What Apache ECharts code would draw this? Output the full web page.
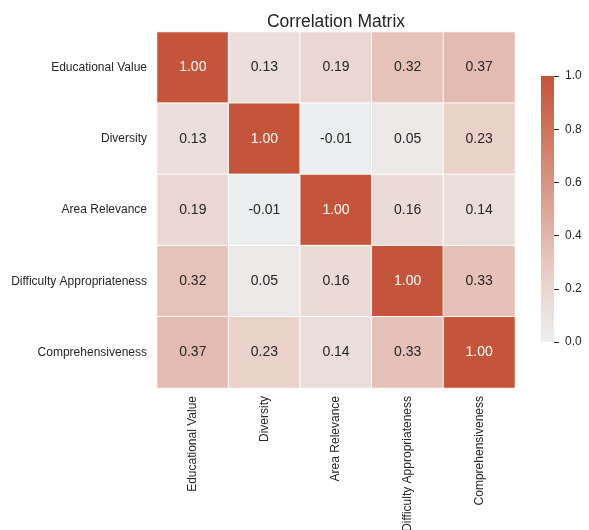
<!DOCTYPE html>
<html>
<head>
<meta charset="utf-8">
<script src="https://cdn.jsdelivr.net/npm/echarts@6/dist/echarts.min.js"></script>
<style>
  html, body { margin: 0; padding: 0; background: #fff; }
  #main { width: 589px; height: 530px; }
</style>
</head>
<body>
<div id="main"></div>
<script>
// 变量名
const features = ['Educational Value', 'Diversity', 'Area Relevance', 'Difficulty Appropriateness', 'Comprehensiveness'];

// 相关系数矩阵（按行）
const corrRows = [
    [1.00, 0.13, 0.19, 0.32, 0.37],
    [0.13, 1.00, -0.01, 0.05, 0.23],
    [0.19, -0.01, 1.00, 0.16, 0.14],
    [0.32, 0.05, 0.16, 1.00, 0.33],
    [0.37, 0.23, 0.14, 0.33, 1.00]
];

// 颜色条刻度
const colorbarMin = 0;
const colorbarMax = 1;
const colorbarStep = 0.2;

// 颜色：从浅灰到砖红
const cmap = ['#ebeeef', '#ebd6d0', '#e2b6aa', '#d89483', '#ce735c', '#c4553a'];

const heatData = [];
corrRows.forEach((row, i) => {
    row.forEach((v, j) => heatData.push([j, i, v]));
});

const chart = echarts.init(document.getElementById('main'));

const gradStops = cmap.map((c, k) => ({ offset: 1 - k / (cmap.length - 1), color: c }));

const option = {
    backgroundColor: '#fff',
    textStyle: { fontFamily: 'Liberation Sans, Arial, sans-serif' },
    title: {
        text: 'Correlation Matrix',
        left: 331, top: 8, textAlign: 'center',
        textStyle: { fontSize: 17.5, fontWeight: 'normal', color: '#262626' }
    },
    grid: [
        { left: 157, top: 32, width: 358, height: 356, outerBoundsMode: 'none', containLabel: false },
        {
            left: 541, top: 76, width: 13, height: 266, show: true, borderWidth: 0,
            outerBoundsMode: 'none',
            backgroundColor: new echarts.graphic.LinearGradient(0, 0, 0, 1, gradStops)
        }
    ],
    xAxis: [
        {
            type: 'category', data: features, gridIndex: 0,
            axisLine: { show: false }, axisTick: { show: false }, splitLine: { show: false },
            axisLabel: { rotate: 90, interval: 0, fontSize: 12, color: '#262626', margin: 8 }
        },
        { type: 'value', gridIndex: 1, show: false, min: colorbarMin, max: colorbarMax }
    ],
    yAxis: [
        {
            type: 'category', data: features, gridIndex: 0, inverse: true,
            axisLine: { show: false }, axisTick: { show: false }, splitLine: { show: false },
            axisLabel: { interval: 0, fontSize: 12, color: '#262626', margin: 10 }
        },
        {
            type: 'value', gridIndex: 1, position: 'right',
            min: colorbarMin, max: colorbarMax, interval: colorbarStep,
            axisLine: { show: false, onZero: false }, splitLine: { show: false },
            axisTick: { show: true, inside: false, length: 5, lineStyle: { color: '#262626', width: 1 } },
            axisLabel: { fontSize: 12, color: '#262626', margin: 11, formatter: v => v.toFixed(1) }
        }
    ],
    visualMap: {
        show: false, min: colorbarMin, max: colorbarMax, seriesIndex: 0,
        inRange: { color: cmap }
    },
    series: [
        {
            type: 'heatmap', xAxisIndex: 0, yAxisIndex: 0,
            data: heatData.map(d => ({
                value: d,
                // 对角线文字为白色
                label: d[2] > 0.6 ? { color: '#fff' } : undefined
            })),
            itemStyle: { borderColor: '#fff', borderWidth: 1 },
            label: {
                show: true, fontSize: 14,
                formatter: p => p.value[2].toFixed(2),
                color: '#262626'
            },
            emphasis: { disabled: true }
        }
    ]
};

chart.setOption(option);
</script>
</body>
</html>
